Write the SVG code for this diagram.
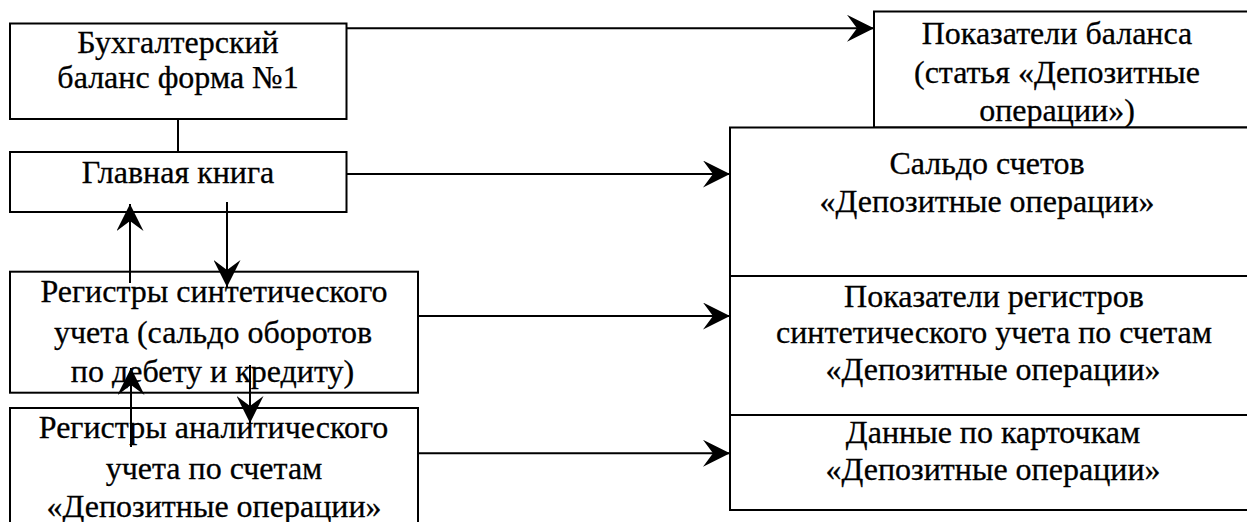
<svg xmlns="http://www.w3.org/2000/svg" width="1247" height="522" viewBox="0 0 1247 522">
<style>
.box{fill:#fff;stroke:#000;stroke-width:2}
.t{font-family:"Liberation Serif","Times New Roman",serif;font-size:32px;fill:#000;stroke:#000;stroke-width:0.3;text-anchor:middle}
.c{stroke:#000;stroke-width:2;fill:none}
</style>
<defs>
<marker id="ah" markerUnits="userSpaceOnUse" markerWidth="27" markerHeight="27" viewBox="0 0 27 27" refX="27" refY="13.5" orient="auto">
<path d="M0,0 L27,13.5 L0,27 L10,13.5 Z" fill="#000"/>
</marker>
</defs>
<rect width="1247" height="522" fill="#fff"/>
<g id="n-balance-indicators">
<rect class="box" x="874" y="11.5" width="400" height="116"/>
<text class="t" x="1057" y="43.5">Показатели баланса</text>
<text class="t" x="1057" y="83">(статья «Депозитные</text>
<text class="t" x="1057" y="120.5">операции»)</text>
</g>
<g id="n-saldo">
<rect class="box" x="730" y="127.5" width="540" height="148.5"/>
<text class="t" x="987" y="174.3">Сальдо счетов</text>
<text class="t" x="987" y="211.5">«Депозитные операции»</text>
</g>
<g id="n-synth-indicators">
<rect class="box" x="730" y="276" width="540" height="139"/>
<text class="t" x="994" y="306.7">Показатели регистров</text>
<text class="t" x="994" y="343.3">синтетического учета по счетам</text>
<text class="t" x="993" y="380">«Депозитные операции»</text>
</g>
<g id="n-cards">
<rect class="box" x="730" y="415" width="540" height="95"/>
<text class="t" x="993" y="443.3">Данные по карточкам</text>
<text class="t" x="993" y="480">«Депозитные операции»</text>
</g>
<g id="n-balance-form">
<rect class="box" x="10" y="23.5" width="336.5" height="95.5"/>
<text class="t" x="178" y="52.7">Бухгалтерский</text>
<text class="t" x="178" y="88.3">баланс форма №1</text>
</g>
<g id="n-ledger">
<rect class="box" x="10" y="152" width="336.5" height="60"/>
<text class="t" x="178" y="182.7">Главная книга</text>
</g>
<g id="n-synth-registers">
<rect class="box" x="10" y="271.7" width="408" height="121"/>
<text class="t" x="214" y="301.7">Регистры синтетического</text>
<text class="t" x="213" y="342.7">учета (сальдо оборотов</text>
<text class="t" x="212.5" y="381.7">по дебету и кредиту)</text>
</g>
<g id="n-analyt-registers">
<rect class="box" x="10" y="408" width="408" height="130"/>
<text class="t" x="213.5" y="438.3">Регистры аналитического</text>
<text class="t" x="214" y="479">учета по счетам</text>
<text class="t" x="214" y="516.7">«Депозитные операции»</text>
</g>
<g id="connectors">
<line class="c" x1="178" y1="119" x2="178" y2="152"/>
<line class="c" x1="346.5" y1="28.3" x2="874" y2="28.3" marker-end="url(#ah)"/>
<line class="c" x1="346.5" y1="174" x2="730" y2="174" marker-end="url(#ah)"/>
<line class="c" x1="418" y1="316" x2="730" y2="316" marker-end="url(#ah)"/>
<line class="c" x1="418" y1="453.3" x2="730" y2="453.3" marker-end="url(#ah)"/>
<line class="c" x1="130" y1="283" x2="130" y2="204" marker-end="url(#ah)"/>
<line class="c" x1="227" y1="202" x2="227" y2="287" marker-end="url(#ah)"/>
<line class="c" x1="131" y1="447" x2="131" y2="368" marker-end="url(#ah)"/>
<line class="c" x1="250" y1="365" x2="250" y2="423" marker-end="url(#ah)"/>
</g>
</svg>
